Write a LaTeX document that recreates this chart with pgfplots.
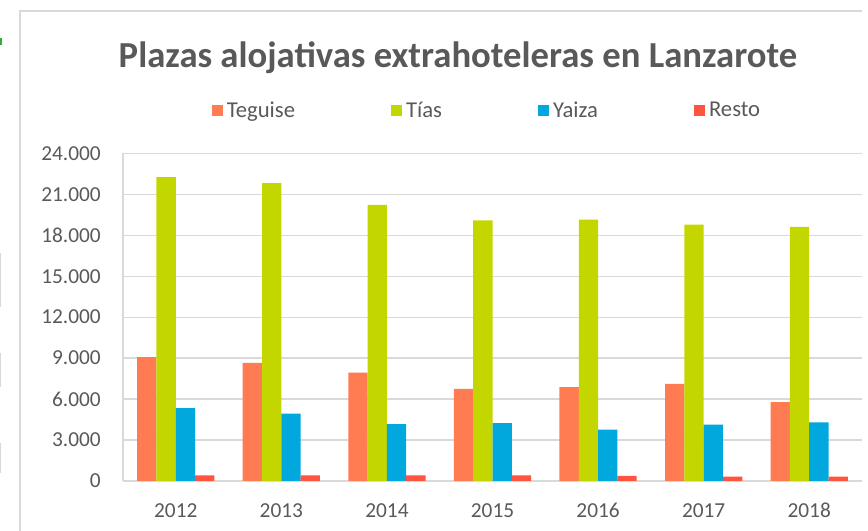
\documentclass[border=0pt]{standalone}
\usepackage{pgfplots}
\pgfplotsset{compat=1.18}
\usepackage{fontspec}
\setmainfont{Carlito}
\definecolor{txt}{HTML}{595959}
\definecolor{gridc}{HTML}{D9D9D9}
\definecolor{teguise}{HTML}{FF7B52}
\definecolor{tias}{HTML}{C4D600}
\definecolor{yaiza}{HTML}{00A8DE}
\definecolor{resto}{HTML}{FF5440}
\begin{document}
\begin{tikzpicture}[x=0.75pt,y=0.75pt]
\useasboundingbox (0,0) rectangle (868,531);
% outer frame
\draw[gridc,line width=0.9pt] (20,0) -- (20,520) -- (862,520);
% small artefacts at the left border
\fill[green!60!black!80] (0,486) rectangle (2,493);
\draw[gridc,line width=0.75pt] (0.5,278) -- (0.5,224);
\draw[gridc,line width=0.75pt] (0.5,178) -- (0.5,144);
\draw[gridc,line width=0.75pt] (0.5,88) -- (0.5,58);
\node[text=txt,font=\fontsize{27.5}{32}\selectfont\bfseries] at (458,473) {Plazas alojativas extrahoteleras en Lanzarote};
\begin{axis}[
  at={(92.25pt,37.5pt)}, anchor=south west,
  scale only axis, width=554.25pt, height=245.8pt,
  xmin=-0.5, xmax=6.5, ymin=0, ymax=24000,
  ybar=0pt, bar width=0.183,
  xtick={0,...,6}, xticklabels={2012,2013,2014,2015,2016,2017,2018},
  ytick={0,3000,...,24000},
  /pgf/number format/.cd, 1000 sep={.}, assume math mode=true, /pgfplots/.cd,
  scaled y ticks=false,
  axis x line*=bottom, axis y line*=left,
  axis line style={draw=gridc, line width=0.9pt},
  xmajorgrids=false, ymajorgrids=true,
  major grid style={draw=gridc, line width=0.9pt},
  major tick length=0pt,
  tick style={draw=none},
  tick label style={text=txt, font=\fontsize{16}{19}\selectfont},
  yticklabel style={inner sep=0pt, xshift=-16.5pt},
  xticklabel style={inner sep=0pt, yshift=-16.5pt},
  legend columns=4,
  legend style={at={(0.4912,1.131)}, anchor=center, draw=none, fill=none,
    font=\fontsize{17}{20}\selectfont, text=txt,
    nodes={inner sep=0pt},
    /tikz/every odd column/.append style={column sep=3pt},
    /tikz/every even column/.append style={column sep=72pt}},
  legend image code/.code={\fill[#1] (0pt,-4.1pt) rectangle (8.25pt,4.1pt);},
]
\addplot[fill=teguise, draw=none] coordinates {(0,9070) (1,8655) (2,7944) (3,6750) (4,6870) (5,7115) (6,5770)};
\addplot[fill=tias, draw=none] coordinates {(0,22250) (1,21810) (2,20220) (3,19090) (4,19140) (5,18780) (6,18610)};
\addplot[fill=yaiza, draw=none] coordinates {(0,5330) (1,4940) (2,4160) (3,4230) (4,3765) (5,4130) (6,4300)};
\addplot[fill=resto, draw=none] coordinates {(0,418) (1,418) (2,418) (3,418) (4,367) (5,318) (6,318)};
\legend{Teguise,Tías,Yaiza,Resto}
\end{axis}
\end{tikzpicture}
\end{document}
